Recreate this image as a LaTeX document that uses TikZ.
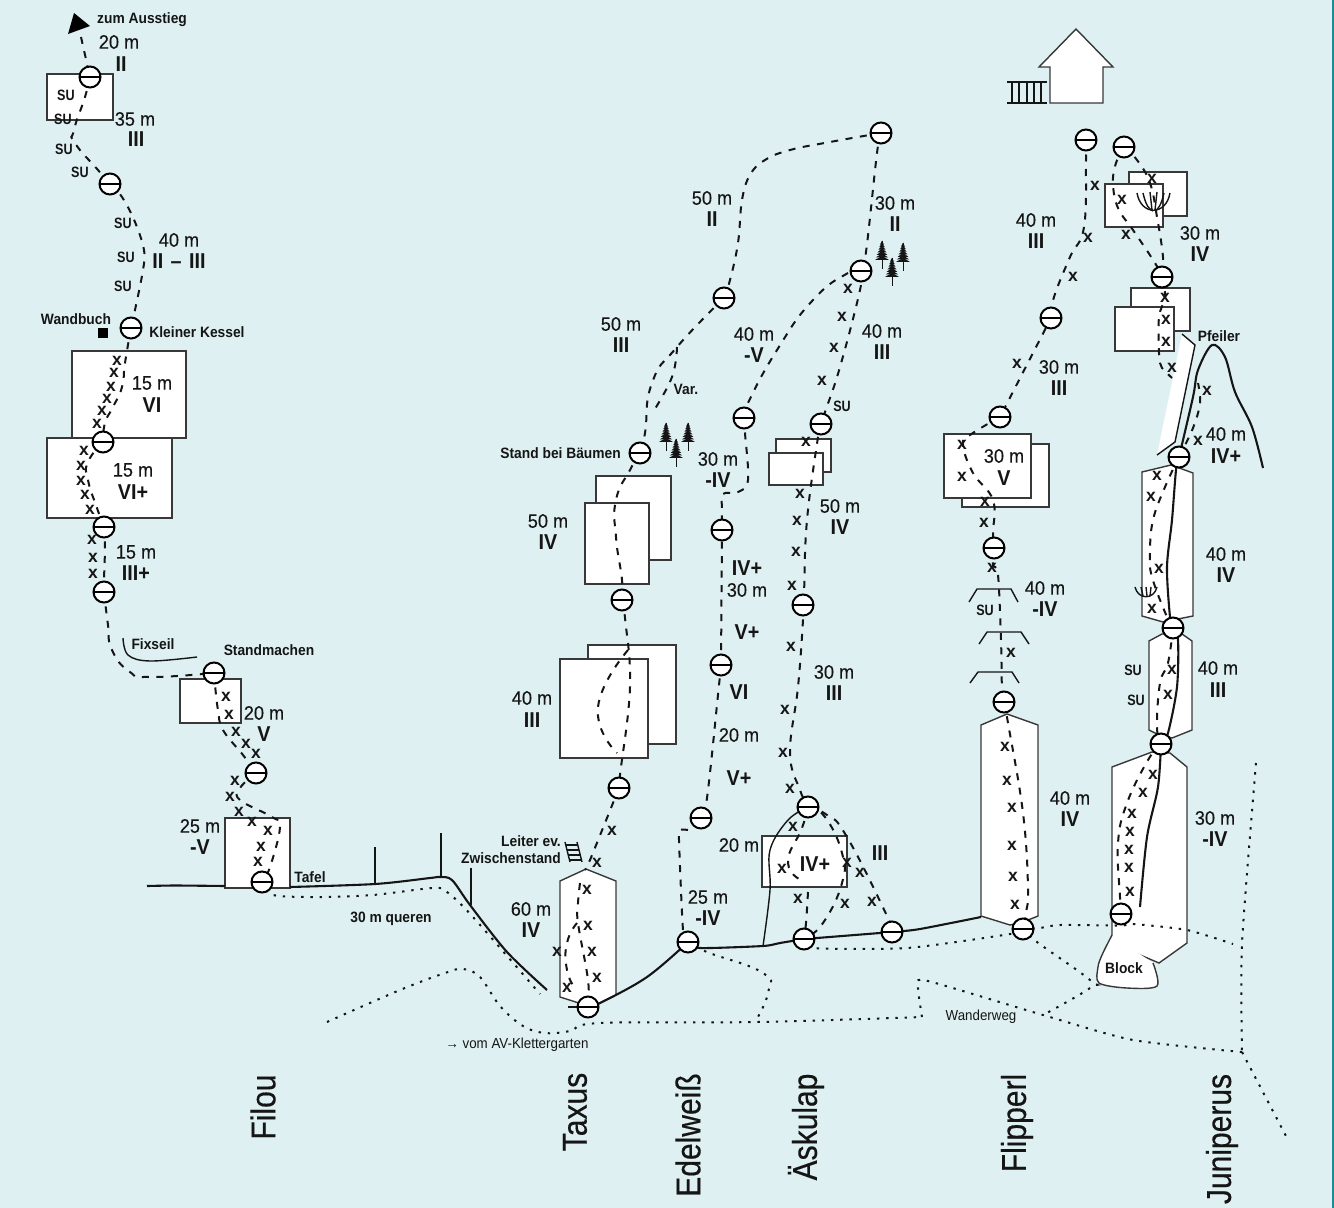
\documentclass[tikz,border=0pt]{standalone}
\usepackage{fontspec}
\setmainfont{Liberation Sans}
\newfontfamily\nrw[FakeStretch=0.92]{Liberation Sans}
\newfontfamily\lenf[FakeStretch=0.93,FakeBold=0.25]{Liberation Sans}
\newfontfamily\sml[FakeStretch=0.92]{Liberation Sans}
\newfontfamily\suf[FakeStretch=0.84]{Liberation Sans}
\newfontfamily\ttl[FakeStretch=0.87,FakeBold=0.4]{Liberation Sans}
\definecolor{bgc}{HTML}{DFF0F2}
\definecolor{ink}{HTML}{151515}
\definecolor{edge}{HTML}{1C8C98}
\pgfdeclarelayer{back}
\pgfsetlayers{back,main}
\tikzset{
  stn/.style={circle,draw=black,fill=white,line width=2,minimum size=21,inner sep=0,
    path picture={\draw[black,line width=2.6] (path picture bounding box.west) -- (path picture bounding box.east);}},
  xm/.style={inner sep=0,text=ink,font=\bfseries\fontsize{17.5}{18}\selectfont},
  lenm/.style={inner sep=0,text=ink,font=\lenf\fontsize{19.5}{20}\selectfont},
  grade/.style={inner sep=0,text=ink,font=\nrw\bfseries\fontsize{21.5}{22}\selectfont},
  lbl/.style={inner sep=0,text=ink,font=\sml\bfseries\fontsize{15}{16}\selectfont},
  sul/.style={inner sep=0,text=ink,font=\suf\bfseries\fontsize{15}{16}\selectfont},
  ttlr/.style={inner sep=0,rotate=90,text=ink,font=\ttl\fontsize{34.5}{35}\selectfont},
  small/.style={inner sep=0,text=ink,font=\sml\fontsize{14.5}{15}\selectfont},
  box/.style={draw=ink!85,fill=white,line width=1.4},
  dsh/.style={draw=ink,line width=2,dash pattern=on 7pt off 7.5pt},
  dts/.style={draw=ink,line width=2,dash pattern=on 2.4pt off 6.8pt},
  gline/.style={draw=ink,line width=2.1},
  thin/.style={draw=ink,line width=1.4},
}
\newcommand\firtree[1]{\begin{scope}[shift={(#1)},scale=.8]\draw[ink,line width=.9](0,-18)--(0,18);\foreach \i in {0,...,6}{\fill[ink] (0,-18+3.2*\i) -- (2.5+\i*1.05,-13+3.2*\i) -- (-2.5-\i*1.05,-13+3.2*\i) -- cycle;}\end{scope}}
\begin{document}
\begin{tikzpicture}[x=1pt,y=-1pt]
\useasboundingbox (0,0) rectangle (1334,1208);
% stations
\foreach \n/\p in {f1/{90,77},f2/{110,184},f3/{131,328},f4/{103,442},f5/{104,527},f6/{104,592},f7/{214,673},f8/{256,773},f9/{262,882},
 t1/{640,453},t2/{622,600},t3/{619,788},t4/{588,1007},
 tp/{881,133},tb/{724,298},tc/{861,271},
 e1/{744,418},e2/{722,530},e3/{721,665},e4/{701,818},e5/{688,942},
 k1/{821,424},k2/{803,605},k3/{808,807},k4/{804,939},k5/{892,932},
 p1/{1086,140},p2/{1051,318},p3/{1000,417},p4/{994,548},p5/{1004,702},p6/{1023,929},
 j1/{1124,147},j2/{1162,277},j3/{1179,457},j4/{1173,628},j5/{1161,744},j6/{1121,914}}
 {\node[stn] (\n) at (\p) {};}
% bolts
\foreach \p [count=\i] in {(117,361),(114,373),(111,387),(107,399),(102,411),(97,424),(84,451),(81,466),(81,481),(85,495),(90,510),(92,540),(93,558),(93,574),(226,697),(229,715),(236,732),(246,744),(256,754),(235,781),(230,797),(239,812),(252,822),(268,831),(261,847),(258,862)}
 {\node[xm] (xf\i) at \p {x};}
\foreach \p [count=\i] in {(612,831),(597,863),(587,890),(588,926),(592,952),(597,978),(557,952),(567,988)}
 {\node[xm] (xt\i) at \p {x};}
\foreach \p [count=\i] in {(848,289),(842,317),(834,348),(822,381),(806,442),(800,494),(797,521),(796,552),(792,586),(791,647),(785,710),(783,753),(790,789),(793,827),(782,869),(798,899),(847,863),(845,904),(860,873),(872,902)}
 {\node[xm] (xk\i) at \p {x};}
\foreach \p [count=\i] in {(1095,186),(1088,238),(1073,277),(1017,364),(962,445),(962,477),(985,502),(984,523),(992,568),(1011,653),(1005,747),(1007,781),(1012,808),(1012,846),(1013,877),(1015,905)}
 {\node[xm] (xp\i) at \p {x};}
\foreach \p [count=\i] in {(1152,179),(1122,200),(1126,235),(1165,298),(1166,320),(1166,342),(1172,368),(1198,441),(1207,391),(1157,476),(1151,497),(1159,569),(1152,609),(1172,670),(1168,695),(1153,775),(1143,793),(1132,814),(1130,832),(1129,850),(1129,868),(1130,892)}
 {\node[xm] (xj\i) at \p {x};}
% free ends of connectors
\coordinate (aus) at (81,37);
\coordinate (varx) at (677,347);
\coordinate (wegA) at (755,1022);
\coordinate (wegB) at (1043,1015);
\coordinate (wegC) at (1242,1052);
\begin{pgfonlayer}{back}
\fill[bgc] (0,0) rectangle (1334,1208);
\fill[edge] (1332,0) rectangle (1334,1208);
% Filou walls
\draw[box] (47,74) rectangle (113,120);
\draw[box] (72,351) rectangle (186,438);
\draw[box] (47,438) rectangle (172,518);
\draw[box] (180,679) rectangle (241,723);
\draw[box] (225,818) rectangle (290,888);
% Taxus walls
\draw[box] (596,476) rectangle (671,560);
\draw[box] (585,503) rectangle (649,584);
\draw[box] (588,645) rectangle (676,744);
\draw[box] (560,659) rectangle (648,758);
\draw[box] (560,881) -- (586,869) -- (616,881) -- (616,995) -- (596,1005) -- (582,1004) -- (560,997) -- cycle;
% Askulap walls
\draw[box] (776,439) rectangle (831,472);
\draw[box] (769,453) rectangle (823,485);
\draw[box] (762,836) rectangle (847,887);
% Flipperl walls
\draw[box] (962,444) rectangle (1049,507);
\draw[box] (944,434) rectangle (1031,498);
\draw[box] (981,725) -- (1007,714) -- (1038,725) -- (1038,916) -- (1023,922) -- (1010,925) -- (981,916) -- cycle;
\draw[thin] (969,602) -- (977,589) -- (1011,589) -- (1018,602);
\draw[thin] (979,644) -- (987,632) -- (1021,632) -- (1029,644);
\draw[thin] (970,683) -- (978,672) -- (1012,672) -- (1019,683);
% Juniperus walls
\draw[box] (1129,172) rectangle (1187,216);
\draw[box] (1105,184) rectangle (1163,227);
\draw[box] (1131,288) rectangle (1190,331);
\draw[box] (1115,307) rectangle (1174,351);
\fill[white] (1182,334) -- (1195,345) -- (1175,442) -- (1157,455) -- cycle;
\draw[thin] (1182,334) -- (1195,345) -- (1175,442) -- (1157,455);
\draw[box] (1142,472) -- (1171,465) -- (1193,473) -- (1193,616) -- (1163,622) -- (1142,616) -- cycle;
\draw[box] (1149,641) -- (1162,634) -- (1182,634) -- (1192,641) -- (1192,730) -- (1172,738) -- (1155,733) -- (1149,730) -- cycle;
\draw[box] (1112,767) -- (1152,752) -- (1170,753) -- (1187,767) -- (1187,943) -- (1159,963) -- (1112,943) -- cycle;
\draw[box] plot[smooth,tension=.5] coordinates {(1112,935) (1102,955) (1098,967) (1099,983) (1127,988) (1157,986) (1153,963)};
% house
\draw[box] (1076,29) -- (1039,67) -- (1050,67) -- (1050,103) -- (1103,103) -- (1103,67) -- (1113,67) -- cycle;
\draw[thin] (1007,82) -- (1047,82);
\draw[thin] (1007,103) -- (1047,103);
\foreach \bx [count=\i] in {1012,1019,1027,1034,1041} {\draw[thin] (\bx,82) -- (\bx,103);}
% bushes
\draw[thin] (1137,193) .. controls (1141,216) and (1166,216) .. (1170,193);
\draw[thin] (1143,193) .. controls (1146,206) and (1149,209) .. (1153,211);
\draw[thin] (1164,193) .. controls (1161,206) and (1158,209) .. (1155,211);
\draw[thin] (1150,192) -- (1152,210);
\draw[thin] (1157,192) -- (1155,210);
\draw[thin] (1135,587) .. controls (1138,600) and (1154,600) .. (1157,587);
\draw[thin] (1141,587) -- (1143,596);
\draw[thin] (1146,587) -- (1147,596);
\draw[thin] (1151,587) -- (1150,596);
% ladder
\draw[thin] (565,842) -- (570,862);
\draw[thin] (577,842) -- (582,862);
\foreach \ry in {0,1,2,3} {\draw[thin] (565.5+1.2*\ry,845+5*\ry) -- (577.5+1.2*\ry,845+5*\ry);}
% ground
\draw[gline] plot[smooth,tension=.4] coordinates {(147,886) (175,885.5) (225,886)};
\draw[gline] plot[smooth,tension=.5] coordinates {(290,887) (375,884) (430,878) (440,877) (452,880) (470,905) (507,952) (547,990)};
\draw[thin] (375,847) -- (375,884);
\draw[thin] (441,833) -- (441,877);
\draw[thin] (471,868) -- (471,905);
\draw[gline] plot[smooth,tension=.6] coordinates {(t4) (600,1003) (647,977) (e5)};
\draw[thin] (568,1007) -- (t4);
\draw[gline] plot[smooth,tension=.4] coordinates {(e5) (700,948) (763,946) (780,943) (k4)};
\draw[gline] plot[smooth,tension=.4] coordinates {(k4) (k5) (920,929) (981,917)};
\draw[thin] plot[smooth,tension=.6] coordinates {(k3) (788,820) (770,850) (770,890) (763,946)};
% Juniperus solid lines
\draw[gline] plot[smooth,tension=.5] coordinates {(j3) (1176,470) (1172,520) (1167,567) (1170,617) (j4)};
\draw[gline] plot[smooth,tension=.5] coordinates {(j4) (1178,640) (1177,687) (1168,733) (j5)};
\draw[gline] plot[smooth,tension=.5] coordinates {(j5) (1158,787) (1147,837) (1140,907)};
\draw[gline] plot[smooth,tension=.55] coordinates {(j3) (1193,397) (1198,370) (1212,345) (1225,357) (1235,392) (1252,427) (1263,468)};
% Fixseil
\draw[thin] plot[smooth,tension=.6] coordinates {(123,638) (128,655) (150,661) (197,657)};
% arrow + wandbuch
\fill[black] (68,34) -- (74,13) -- (90,26) -- cycle;
\fill[black] (98,328) rectangle (108,338);
% trees
\firtree{882,255}\firtree{892,272}\firtree{903,257}
\firtree{666,437}\firtree{676,453}\firtree{688,437}
% dotted paths
\draw[dts] plot[smooth,tension=.5] coordinates {(f9) (273,895) (320,897) (373,895) (433,888) (447,892) (473,917) (540,994)};
\draw[dts] plot[smooth,tension=.6] coordinates {(327,1022) (400,990) (445,973) (463,969) (480,977) (500,1006) (523,1026) (545,1033) (570,1031) (600,1023) (757,1022) (922,1017)};
\draw[dts] plot[smooth,tension=.4] coordinates {(922,1017) (918,985) (928,981) (1043,1015) (1133,1040) (wegC)};
\draw[dts] (wegC) -- (1287,1138);
\draw[dts] plot[smooth,tension=.8] coordinates {(e5) (707,952) (763,973) (768,993) (wegA)};
\draw[dts] plot[smooth,tension=.4] coordinates {(k4) (813,948) (907,948) (1010,934) (p6)};
\draw[dts] plot[smooth,tension=.4] coordinates {(p6) (1040,928) (1060,925) (j6.south) (1133,924) (1187,930) (1233,944)};
\draw[dts] plot[smooth,tension=.7] coordinates {(p6) (1037,942) (1090,980) (1090,988) (wegB)};
\draw[dts] plot[smooth,tension=.4] coordinates {(1256,763) (1242,943) (wegC)};
% Filou route
\draw[dsh] (aus) -- (f1);
\draw[dsh] plot[smooth,tension=.9] coordinates {(f1) (85,97) (74,130) (75,143) (98,170) (f2)};
\draw[dsh] plot[smooth,tension=.6] coordinates {(f2) (122,197) (135,222) (144,250) (143,270) (135,310) (f3)};
\draw[dsh] plot[smooth,tension=.9] coordinates {(f3) (125,363) (122,387) (113,407) (105,423) (f4)};
\draw[dsh] plot[smooth,tension=.9] coordinates {(f4) (88,462) (88,480) (97,508) (f5)};
\draw[dsh] plot[smooth,tension=.7] coordinates {(f5) (105,546) (104,580) (f6)};
\draw[dsh] plot[smooth,tension=.9] coordinates {(f6) (108,625) (112,650) (130,672) (150,677) (f7)};
\draw[dsh] plot[smooth,tension=.7] coordinates {(f7) (215,685) (218,710) (223,730) (243,755) (f8)};
\draw[dsh] plot[smooth,tension=.7] coordinates {(f8) (240,788) (240,800) (272,817) (280,827) (270,867) (f9)};
% Taxus route
\draw[dsh] plot[smooth,tension=.9] coordinates {(tb) (677,347) (652,383) (645,433) (t1)};
\draw[dsh] plot[smooth,tension=.7] coordinates {(varx) (672,377) (653,412)};
\draw[dsh] plot[smooth,tension=.9] coordinates {(t1) (630,470) (616,500) (616,537) (622,580) (t2)};
\draw[dsh] plot[smooth,tension=.7] coordinates {(t2) (625,618) (630,687) (620,775) (t3)};
\draw[dsh] plot[smooth,tension=.9] coordinates {(628,650) (598,707) (617,753)};
\draw[dsh] plot[smooth,tension=.5] coordinates {(t3) (613,803) (590,860) (585,870)};
\draw[dsh] plot[smooth,tension=.7] coordinates {(580,883) (578,903) (578,923) (588,980) (t4)};
\draw[dsh] plot[smooth,tension=.9] coordinates {(577,923) (567,943) (567,970) (575,988)};
% top links
\draw[dsh] plot[smooth,tension=.7] coordinates {(tp) (830,142) (790,150) (765,160) (750,175) (742,200) (738,243) (730,280) (tb)};
\draw[dsh] plot[smooth,tension=.7] coordinates {(tp) (877,153) (866,252) (tc)};
\draw[dsh] plot[smooth,tension=.9] coordinates {(tc) (848,273) (813,300) (777,350) (747,405) (e1)};
\draw[dsh] plot[smooth,tension=.7] coordinates {(tc) (860,290) (840,367) (825,412) (k1)};
% Edelweiss route
\draw[dsh] plot[smooth,tension=.6] coordinates {(e1) (745,433) (748,480) (738,492) (723,494) (722,510) (e2)};
\draw[dsh] (e2) -- (e3);
\draw[dsh] plot[smooth,tension=.7] coordinates {(e3) (719,685) (707,798) (e4)};
\draw[dsh] plot[smooth,tension=.4] coordinates {(688,830) (680,830) (679,840) (683,930) (e5)};
% Askulap route
\draw[dsh] plot[smooth,tension=.7] coordinates {(k1) (818,437) (807,520) (804,593) (k2)};
\draw[dsh] plot[smooth,tension=.7] coordinates {(k2) (803,620) (798,687) (790,753) (800,790) (k3)};
\draw[dsh] plot[smooth,tension=.9] coordinates {(k3) (802,828) (788,863) (805,882)};
\draw[dsh] plot[smooth,tension=.7] coordinates {(808,892) (806,923) (k4)};
\draw[dsh] plot[smooth,tension=.8] coordinates {(k3) (825,817) (842,853) (842,883) (823,923) (k4)};
\draw[dsh] plot[smooth,tension=.8] coordinates {(k3) (827,815) (847,837) (888,918) (k5)};
% Flipperl route
\draw[dsh] plot[smooth,tension=.7] coordinates {(p1) (1086,160) (1084,227) (1070,257) (1054,297) (p2)};
\draw[dsh] (p2) -- (p3);
\draw[dsh] plot[smooth,tension=.7] coordinates {(p3) (970,435) (963,445) (973,473) (993,500) (993,533) (p4)};
\draw[dsh] plot[smooth,tension=.6] coordinates {(p4) (993,565) (998,575) (1001,640) (1002,690) (p5)};
\draw[dsh] plot[smooth,tension=.7] coordinates {(p5) (1008,723) (1023,813) (1028,887) (1026,913) (p6)};
% Juniperus route
\draw[dsh] plot[smooth,tension=.7] coordinates {(j1) (1116,163) (1113,183) (1118,208) (1133,230) (1155,263) (j2)};
\draw[dsh] plot[smooth,tension=.7] coordinates {(j1) (1137,160) (1150,183) (1157,217) (1163,257) (j2)};
\draw[dsh] plot[smooth,tension=.6] coordinates {(j2) (1165,297) (1159,317) (1159,353) (1160,363) (1162,368) (1172,378)};
\draw[dsh] plot[smooth,tension=.6] coordinates {(j3) (1193,428) (1200,403) (1198,383)};
\draw[dsh] plot[smooth,tension=.7] coordinates {(j3) (1165,487) (1153,520) (1150,553) (1152,577) (1167,617) (j4)};
\draw[dsh] plot[smooth,tension=.7] coordinates {(j4) (1168,663) (1160,683) (1157,727) (j5)};
\draw[dsh] plot[smooth,tension=.7] coordinates {(j5) (1148,760) (1127,803) (1118,843) (1120,897) (j6)};
\end{pgfonlayer}
% labels
\node[lbl,anchor=west] (la1) at (97,20) {zum Ausstieg};
\node[lenm] (m1) at (119,42) {20 m};
\node[grade] (g1) at (121,64) {II};
\node[lenm] (m2) at (135,119) {35 m};
\node[grade] (g2) at (136,139) {III};
\node[sul] (su1) at (66,95) {SU};
\node[sul] (su2) at (63,119) {SU};
\node[sul] (su3) at (64,149) {SU};
\node[sul] (su4) at (80,172) {SU};
\node[sul] (su5) at (123,223) {SU};
\node[sul] (su6) at (126,257) {SU};
\node[sul] (su7) at (123,286) {SU};
\node[lenm] (m3) at (179,240) {40 m};
\node[grade] (g3) at (179,261) {II\hspace{2pt} – \hspace{2pt}III};
\node[lbl] (la2) at (76,319) {Wandbuch};
\node[lbl] (la3) at (197,332) {Kleiner Kessel};
\node[lenm] (m4) at (152,383) {15 m};
\node[grade] (g4) at (152,405) {VI};
\node[lenm] (m5) at (133,470) {15 m};
\node[grade] (g5) at (133,492) {VI+};
\node[lenm] (m6) at (136,552) {15 m};
\node[grade] (g6) at (136,573) {III+};
\node[lbl] (la4) at (153,644) {Fixseil};
\node[lbl] (la5) at (269,650) {Standmachen};
\node[lenm] (m7) at (264,713) {20 m};
\node[grade] (g7) at (264,734) {V};
\node[lenm] (m8) at (200,826) {25 m};
\node[grade] (g8) at (200,847) {-V};
\node[lbl] (la6) at (310,877) {Tafel};
\node[lbl] (la7) at (391,919) {30 m queren};
\node[lbl,anchor=east] (la8) at (561,841) {Leiter ev.};
\node[lbl,anchor=east] (la9) at (561,858) {Zwischenstand};
\node[lbl,anchor=east] (la10) at (621,453) {Stand bei Bäumen};
\node[lenm] (m9) at (548,521) {50 m};
\node[grade] (g9) at (548,542) {IV};
\node[lenm] (m10) at (532,698) {40 m};
\node[grade] (g10) at (532,720) {III};
\node[lenm] (m11) at (531,909) {60 m};
\node[grade] (g11) at (531,930) {IV};
\node[lenm] (m12) at (621,324) {50 m};
\node[grade] (g12) at (621,345) {III};
\node[lenm] (m13) at (712,198) {50 m};
\node[grade] (g13) at (712,219) {II};
\node[lbl] (la11) at (686,389) {Var.};
\node[lenm] (m14) at (754,334) {40 m};
\node[grade] (g14) at (754,355) {-V};
\node[lenm] (m15) at (895,203) {30 m};
\node[grade] (g15) at (895,224) {II};
\node[lenm] (m16) at (882,331) {40 m};
\node[grade] (g16) at (882,352) {III};
\node[sul] (su8) at (842,406) {SU};
\node[lenm] (m17) at (718,459) {30 m};
\node[grade] (g17) at (718,480) {-IV};
\node[grade] (g18) at (747,568) {IV+};
\node[lenm] (m18) at (747,590) {30 m};
\node[grade] (g19) at (747,632) {V+};
\node[grade] (g20) at (739,692) {VI};
\node[lenm] (m19) at (739,735) {20 m};
\node[grade] (g21) at (739,778) {V+};
\node[lenm] (m20) at (708,897) {25 m};
\node[grade] (g22) at (708,918) {-IV};
\node[lenm] (m21) at (840,506) {50 m};
\node[grade] (g23) at (840,527) {IV};
\node[lenm] (m22) at (834,672) {30 m};
\node[grade] (g24) at (834,693) {III};
\node[lenm] (m23) at (739,845) {20 m};
\node[grade] (g25) at (815,864) {IV+};
\node[grade] (g26) at (880,853) {III};
\node[lenm] (m24) at (1036,220) {40 m};
\node[grade] (g27) at (1036,241) {III};
\node[lenm] (m25) at (1200,233) {30 m};
\node[grade] (g28) at (1200,254) {IV};
\node[lenm] (m26) at (1059,367) {30 m};
\node[grade] (g29) at (1059,388) {III};
\node[lenm] (m27) at (1004,456) {30 m};
\node[grade] (g30) at (1004,478) {V};
\node[lenm] (m28) at (1045,588) {40 m};
\node[grade] (g31) at (1045,609) {-IV};
\node[sul] (su9) at (985,610) {SU};
\node[lenm] (m29) at (1070,798) {40 m};
\node[grade] (g32) at (1070,819) {IV};
\node[lbl] (la12) at (1219,336) {Pfeiler};
\node[lenm] (m30) at (1226,434) {40 m};
\node[grade] (g33) at (1226,456) {IV+};
\node[lenm] (m31) at (1226,554) {40 m};
\node[grade] (g34) at (1226,575) {IV};
\node[lenm] (m32) at (1218,668) {40 m};
\node[grade] (g35) at (1218,690) {III};
\node[sul] (su10) at (1133,670) {SU};
\node[sul] (su11) at (1136,700) {SU};
\node[lenm] (m33) at (1215,818) {30 m};
\node[grade] (g36) at (1215,839) {-IV};
\node[lbl] (la13) at (1124,968) {Block};
\node[small] (la14) at (981,1017) {Wanderweg};
\node[small] (la15) at (517,1045) {→ vom AV-Klettergarten};
\node[ttlr] (n1) at (263,1107) {Filou};
\node[ttlr] (n2) at (575,1112) {Taxus};
\node[ttlr] (n3) at (688,1135) {Edelweiß};
\node[ttlr] (n4) at (806,1127) {Äskulap};
\node[ttlr] (n5) at (1017,1123) {Flipperl};
\node[ttlr] (n6) at (1222,1139) {Juniperus};
\end{tikzpicture}
\end{document}
